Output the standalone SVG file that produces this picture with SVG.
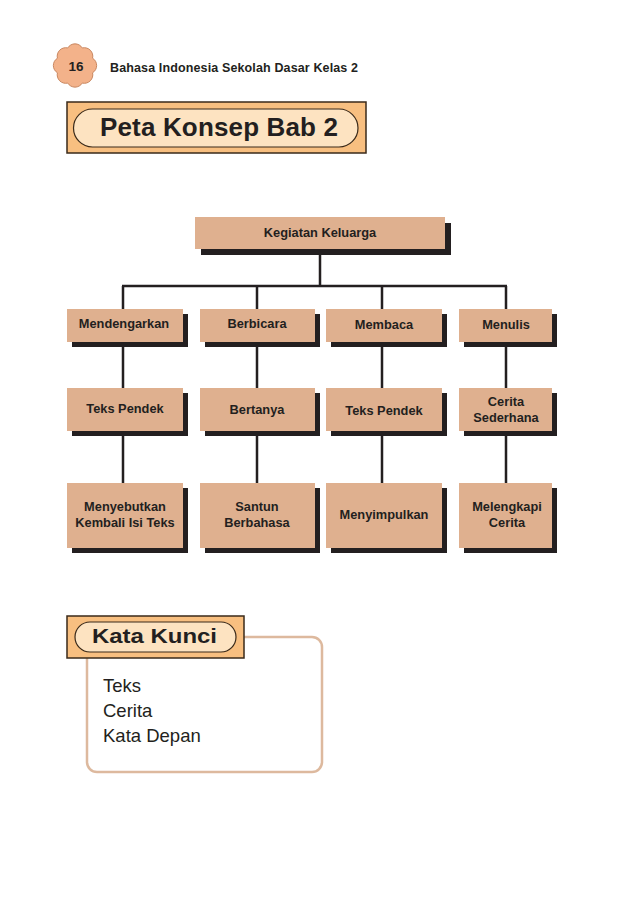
<svg xmlns="http://www.w3.org/2000/svg" width="638" height="907" viewBox="0 0 638 907">
<style>
.box{fill:#DFB08F}
.sh{fill:#231F20}
.t{font-family:"Liberation Sans",Arial,sans-serif;font-weight:bold;font-size:12.8px;fill:#231F20;text-anchor:middle}
.con{stroke:#231F20;stroke-width:2.5;fill:none}
.kw{font-family:"Liberation Sans",Arial,sans-serif;font-size:18.5px;fill:#231F20}
</style>
<rect width="638" height="907" fill="#ffffff"/>
<g id="header">
<path d="M92.55 72.77 A8.5 8.5 0 0 1 82.27 83.05 A8.5 8.5 0 0 1 67.73 83.05 A8.5 8.5 0 0 1 57.45 72.77 A8.5 8.5 0 0 1 57.45 58.23 A8.5 8.5 0 0 1 67.73 47.95 A8.5 8.5 0 0 1 82.27 47.95 A8.5 8.5 0 0 1 92.55 58.23 A8.5 8.5 0 0 1 92.55 72.77 Z" fill="#F3B28A" stroke="#C98760" stroke-width="1"/>
<text x="76" y="70.5" font-family="'Liberation Sans',Arial,sans-serif" font-weight="bold" font-size="13.5" fill="#231F20" text-anchor="middle">16</text>
<text x="110" y="72" font-family="'Liberation Sans',Arial,sans-serif" font-weight="bold" font-size="12.5" fill="#231F20" textLength="248" lengthAdjust="spacing">Bahasa Indonesia Sekolah Dasar Kelas 2</text>
</g>
<g id="title">
<rect x="67" y="102" width="299" height="51" fill="#F8BF80" stroke="#3A2A1A" stroke-width="1.5"/>
<rect x="73.5" y="109" width="284.5" height="38" rx="19" fill="#FDE3C1" stroke="#3A2A1A" stroke-width="1.2"/>
<text x="219" y="136" font-family="'Liberation Sans',Arial,sans-serif" font-weight="bold" font-size="26" fill="#231F20" text-anchor="middle" textLength="238" lengthAdjust="spacing">Peta Konsep Bab 2</text>
</g>
<g id="connectors">
<path class="con" d="M320 249 V286 M122 286 H507 M123 286 V309 M257 286 V309 M382 286 V309 M506 286 V309"/>
<path class="con" d="M123 342 V388 M257 342 V388 M382 342 V388 M506 342 V388"/>
<path class="con" d="M123 431 V483 M257 431 V483 M382 431 V483 M506 431 V483"/>
</g>
<g id="n-root"><rect class="sh" x="201" y="223" width="250" height="32"/><rect class="box" x="195" y="217" width="250" height="32"/><text class="t" x="320" y="237">Kegiatan Keluarga</text></g>
<g id="n-mendengarkan"><rect class="sh" x="72" y="314" width="116" height="33"/><rect class="box" x="67" y="309" width="116" height="33"/><text class="t" x="124" y="328">Mendengarkan</text></g>
<g id="n-berbicara"><rect class="sh" x="205" y="314" width="115" height="33"/><rect class="box" x="200" y="309" width="115" height="33"/><text class="t" x="257" y="328">Berbicara</text></g>
<g id="n-membaca"><rect class="sh" x="331" y="314" width="116" height="33"/><rect class="box" x="326" y="309" width="116" height="33"/><text class="t" x="384" y="329">Membaca</text></g>
<g id="n-menulis"><rect class="sh" x="464" y="314" width="93" height="33"/><rect class="box" x="459" y="309" width="93" height="33"/><text class="t" x="506" y="329">Menulis</text></g>
<g id="n-teks1"><rect class="sh" x="72" y="393" width="116" height="43"/><rect class="box" x="67" y="388" width="116" height="43"/><text class="t" x="125" y="413">Teks Pendek</text></g>
<g id="n-bertanya"><rect class="sh" x="205" y="393" width="115" height="43"/><rect class="box" x="200" y="388" width="115" height="43"/><text class="t" x="257" y="414">Bertanya</text></g>
<g id="n-teks2"><rect class="sh" x="331" y="393" width="116" height="43"/><rect class="box" x="326" y="388" width="116" height="43"/><text class="t" x="384" y="415">Teks Pendek</text></g>
<g id="n-cerita"><rect class="sh" x="464" y="393" width="93" height="43"/><rect class="box" x="459" y="388" width="93" height="43"/><text class="t" x="506" y="406">Cerita</text><text class="t" x="506" y="422">Sederhana</text></g>
<g id="n-menyebutkan"><rect class="sh" x="72" y="488" width="116" height="65"/><rect class="box" x="67" y="483" width="116" height="65"/><text class="t" x="125" y="511">Menyebutkan</text><text class="t" x="125" y="527">Kembali Isi Teks</text></g>
<g id="n-santun"><rect class="sh" x="205" y="488" width="115" height="65"/><rect class="box" x="200" y="483" width="115" height="65"/><text class="t" x="257" y="511">Santun</text><text class="t" x="257" y="527">Berbahasa</text></g>
<g id="n-menyimpulkan"><rect class="sh" x="331" y="488" width="116" height="65"/><rect class="box" x="326" y="483" width="116" height="65"/><text class="t" x="384" y="519">Menyimpulkan</text></g>
<g id="n-melengkapi"><rect class="sh" x="464" y="488" width="93" height="65"/><rect class="box" x="459" y="483" width="93" height="65"/><text class="t" x="507" y="511">Melengkapi</text><text class="t" x="507" y="527">Cerita</text></g>
<g id="katakunci">
<rect x="87" y="637" width="235" height="135" rx="10" fill="#ffffff" stroke="#DDB99E" stroke-width="2.5"/>
<rect x="67" y="616" width="177" height="42" fill="#F8BF80" stroke="#3A2A1A" stroke-width="1.5"/>
<rect x="75" y="622" width="161" height="30" rx="15" fill="#FDE3C1" stroke="#3A2A1A" stroke-width="1.2"/>
<text x="92" y="643" font-family="'Liberation Sans',Arial,sans-serif" font-weight="bold" font-size="20" fill="#231F20" textLength="125" lengthAdjust="spacingAndGlyphs">Kata Kunci</text>
<text class="kw" x="103" y="692">Teks</text>
<text class="kw" x="103" y="717">Cerita</text>
<text class="kw" x="103" y="742">Kata Depan</text>
</g>
</svg>
